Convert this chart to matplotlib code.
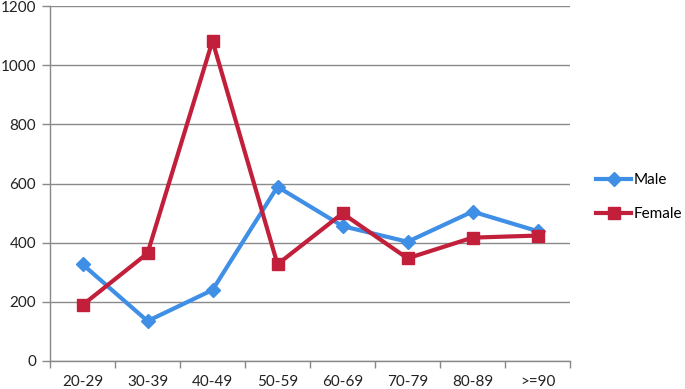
import matplotlib
matplotlib.use("Agg")
import matplotlib.pyplot as plt
import numpy as np

categories = ["20-29", "30-39", "40-49", "50-59", "60-69", "70-79", "80-89", ">=90"]
male = [327, 135, 240, 589, 456, 403, 505, 439]
female = [189, 364, 1082, 327, 499, 347, 417, 424]

plt.rcParams['font.family'] = ['Lato', 'DejaVu Sans']

fig = plt.figure(figsize=(6.85, 3.89), dpi=100)
ax = fig.add_axes([50/685, 1-361/389, 520/685, 355/389])

x = np.arange(len(categories))
ax.plot(x, male, color='#3f8fe6', lw=3, marker='D', ms=7, label='Male', zorder=3)
ax.plot(x, female, color='#c21f3a', lw=3, marker='s', ms=9, label='Female', zorder=4)

ax.set_xlim(-0.5, len(categories) - 0.5)
ax.set_ylim(0, 1200)
ax.set_yticks(range(0, 1201, 200))
ax.set_xticks(x)
ax.set_xticklabels(categories)
ax.set_xticks(np.arange(-0.5, len(categories), 1), minor=True)
ax.tick_params(axis='x', which='major', length=0, labelsize=11, pad=10, labelcolor='#222222')
ax.tick_params(axis='x', which='minor', length=5, color='#888888', width=1)
ax.tick_params(axis='y', length=6, color='#888888', width=1, labelsize=11, labelcolor='#222222', pad=4)
ax.yaxis.grid(True, color='#8a8a8a', lw=1)
ax.set_axisbelow(True)
for s in ['top', 'right']:
    ax.spines[s].set_visible(False)
for s in ['left', 'bottom']:
    ax.spines[s].set_color('#888888')
    ax.spines[s].set_linewidth(1)

leg = ax.legend(loc='upper left', bbox_to_anchor=(596/685, 1-173/389), bbox_transform=fig.transFigure,
                frameon=False, fontsize=11, handlelength=2.3, handletextpad=0.15, labelspacing=1.3,
                borderpad=0, borderaxespad=0)

fig.savefig("out.png", dpi=100)
